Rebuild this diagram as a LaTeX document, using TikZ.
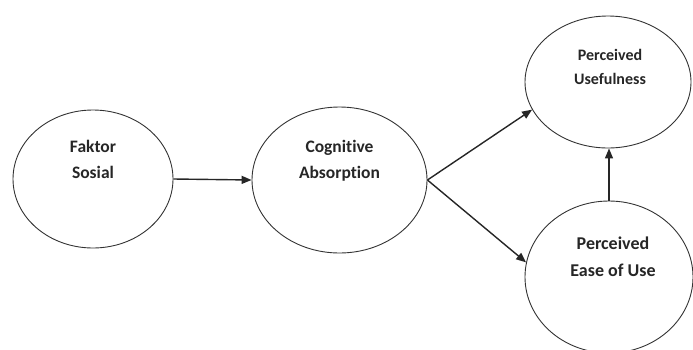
\documentclass[tikz,border=0pt]{standalone}
\usepackage{fontspec}
\setmainfont{Carlito}[RawFeature=-liga]
\usetikzlibrary{shapes.geometric,arrows.meta}
\begin{document}
\begin{tikzpicture}[x=1pt,y=-1pt,
  ell/.style={draw=black!80,line width=0.9pt,ellipse,inner sep=0pt},
  lbl/.style={align=center,font=\bfseries\fontsize{17.5}{26}\selectfont,text=black!85},
  arr/.style={draw=black!85,line width=1.4pt,-{Triangle[length=10pt,width=8pt]}}]
\useasboundingbox (0,0) rectangle (693,349);
\node[ell,minimum width=160pt,minimum height=138pt] (fs) at (93,179) {};
\node[ell,minimum width=175pt,minimum height=146pt] (ca) at (339.5,180) {};
\node[ell,minimum width=166pt,minimum height=132pt] (pu) at (608,82) {};
\node[ell,minimum width=168pt,minimum height=152pt] (peou) at (609,277) {};
\node[lbl] (fst) at (93,159) {Faktor\\Sosial};
\node[lbl] (cat) at (339.5,161) {Cognitive\\Absorption};
\node[lbl,font=\bfseries\fontsize{16}{24}\selectfont] (put) at (610,67) {Perceived\\Usefulness};
\node[lbl,font=\bfseries\fontsize{18}{27}\selectfont] (peout) at (613,256.5) {Perceived\\Ease of Use};
\draw[arr] (fs.east) -- (ca.west);
\draw[arr] (ca.east) -- (pu.200);
\draw[arr] (ca.east) -- (peou.170);
\draw[arr] (peou.north) -- (peou.north |- pu.south);
\end{tikzpicture}
\end{document}
